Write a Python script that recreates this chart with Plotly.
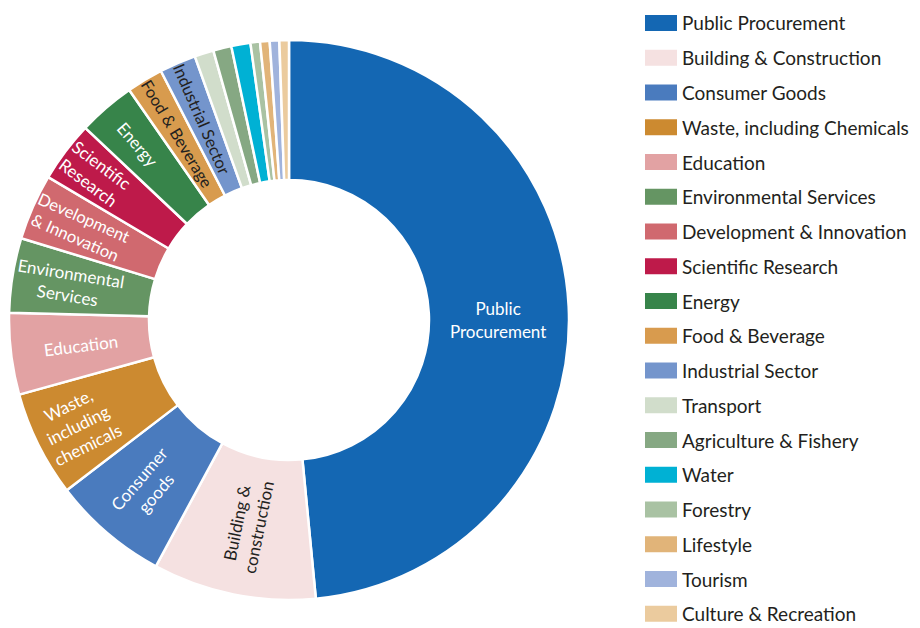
import plotly.graph_objects as go

labels = ["Public Procurement", "Building & Construction", "Consumer Goods",
          "Waste, including Chemicals", "Education", "Environmental Services",
          "Development & Innovation", "Scientific Research", "Energy",
          "Food & Beverage", "Industrial Sector", "Transport",
          "Agriculture & Fishery", "Water", "Forestry", "Lifestyle",
          "Tourism", "Culture & Recreation"]
values = [48.4, 9.4, 6.7, 6.1, 4.7, 4.3, 3.8, 3.5, 3.3, 2.1, 2.1,
          1.1, 1.05, 1.1, 0.55, 0.55, 0.55, 0.55]
slice_text = ["Public<br>Procurement", "Building &<br>construction", "Consumer<br>goods",
              "Waste,<br>including<br>chemicals", "Education", "Environmental<br>Services",
              "Development<br>& Innovation", "Scientific<br>Research", "Energy",
              "Food & Beverage", "Industrial Sector", "", "", "", "", "", "", ""]
colors = ["#1467B3", "#F5E1E1", "#4A7BBE", "#CC8A30", "#E2A2A3", "#659563",
          "#D0696F", "#BE1A4A", "#37844A", "#D89B4E", "#7495CC", "#D1DDCB",
          "#86A883", "#00B1D4", "#A9C2A3", "#E1B479", "#A0B3DC", "#EBCB9E"]
text_colors = ["white", "#231F20", "white", "white", "white", "white", "white",
               "white", "white", "#231F20", "#231F20", "white", "white", "white",
               "white", "white", "white", "white"]

# page has an 8px body margin: figure is drawn at (8, 8)
OFF = 8
W, H = 912, 620


def px(x):
    return (x - OFF) / W


def py(y):
    return 1 - (y - OFF) / H


fig = go.Figure(go.Pie(
    labels=labels, values=values, text=slice_text, textinfo="text",
    hole=0.5, sort=False, direction="clockwise", rotation=0,
    marker=dict(colors=colors, line=dict(color="white", width=2.5)),
    insidetextorientation="radial", textposition="inside",
    insidetextfont=dict(color=text_colors, size=17, family="Lato"),
    domain=dict(x=[px(9), px(569)], y=[py(600), py(40)]),
    showlegend=False, hoverinfo="label+percent",
))

# custom legend built from the label / colour lists
shapes, annots = [], []
for i, (lab, col) in enumerate(zip(labels, colors)):
    yc = 23 + 34.75 * i
    shapes.append(dict(type="rect", xref="paper", yref="paper",
                       x0=px(645), x1=px(677), y0=py(yc + 8), y1=py(yc - 8),
                       fillcolor=col, line=dict(width=0)))
    annots.append(dict(x=px(680), y=py(yc), xref="paper", yref="paper",
                       text=lab, showarrow=False, xanchor="left", yanchor="middle",
                       font=dict(size=19, color="#231F20", family="Lato")))

fig.update_layout(width=W, height=H, margin=dict(l=0, r=0, t=0, b=0),
                  paper_bgcolor="white", plot_bgcolor="white",
                  shapes=shapes, annotations=annots)
fig.write_html("out.html")
